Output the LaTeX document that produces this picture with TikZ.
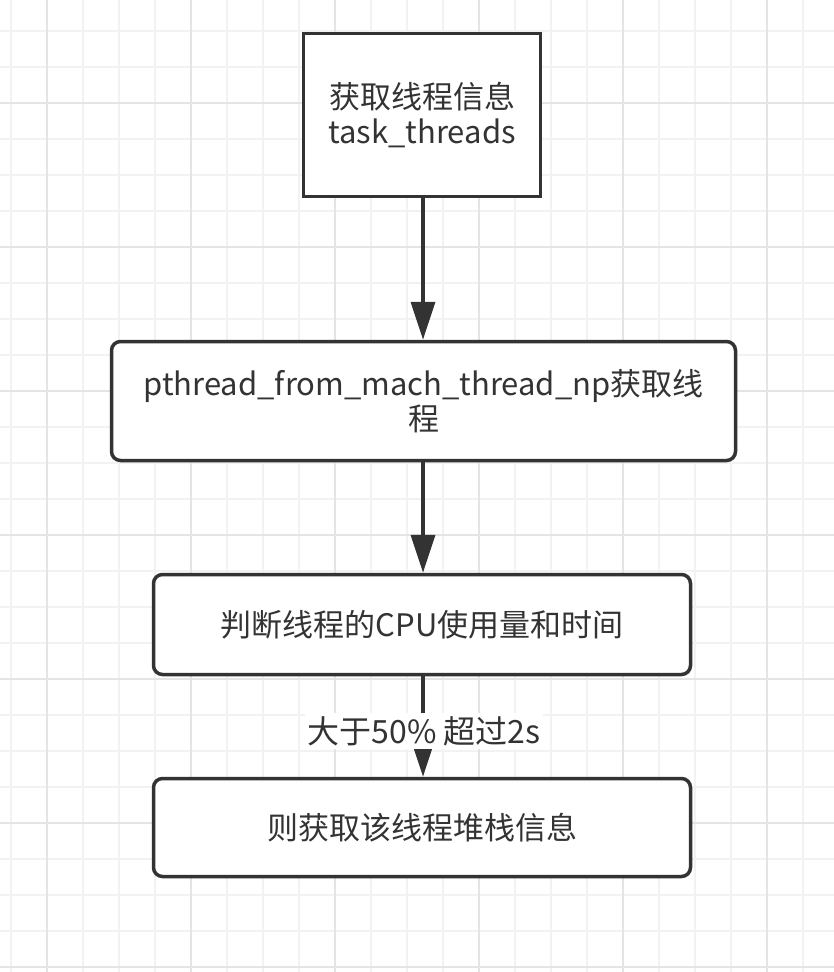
\documentclass[tikz,border=0pt]{standalone}
\usepackage{fontspec}
\setmainfont{Noto Sans CJK SC}
\usetikzlibrary{arrows.meta}
\definecolor{ink}{HTML}{333333}
\definecolor{gridmin}{HTML}{F2F2F2}
\definecolor{gridmaj}{HTML}{E4E4E4}
\begin{document}
\begin{tikzpicture}[x=1pt, y=-1pt, font=\fontsize{31}{35}\selectfont, text=ink,
  box/.style={draw=ink, line width=3.5pt, fill=white, align=center, inner sep=0pt},
  rbox/.style={box, rounded corners=9pt},
  flow/.style={draw=ink, line width=3.5pt, -{Triangle[length=38pt,width=24pt]}},
  cond/.style={fill=white, inner sep=3pt, font=\fontsize{32}{36}\selectfont}]
\useasboundingbox (0,0) rectangle (834,972);
\fill[white] (0,0) rectangle (834,972);
% background grid
\foreach \x in {11,47,...,839} \draw[gridmin, line width=2pt] (\x,0) -- (\x,972);
\foreach \y in {31,67,...,975} \draw[gridmin, line width=2pt] (0,\y) -- (834,\y);
\foreach \x in {47,191,...,839} \draw[gridmaj, line width=2pt] (\x,0) -- (\x,972);
\foreach \y in {103,247,...,975} \draw[gridmaj, line width=2pt] (0,\y) -- (834,\y);
% steps
\node[box, minimum width=237pt, minimum height=163pt] (info) at (422,115) {获取线程信息\\task\_threads};
\node[rbox, minimum width=624pt, minimum height=119pt] (pth) at (423.5,401) {pthread\_from\_mach\_thread\_np获取线\\程};
\node[rbox, minimum width=537pt, minimum height=100pt] (cpu) at (422,624.5) {判断线程的CPU使用量和时间};
\node[rbox, minimum width=537pt, minimum height=98pt] (stack) at (422,827.5) {则获取该线程堆栈信息};
% connectors
\draw[flow] (info.south -| 423,0) -- (pth.north -| 423,0);
\draw[flow] (pth.south -| 423,0) -- (cpu.north -| 423,0);
\draw[flow] (cpu.south -| 423,0) -- (stack.north -| 423,0);
\node[cond] (gt) at (424,731) {大于50\% 超过2s};
\end{tikzpicture}
\end{document}
